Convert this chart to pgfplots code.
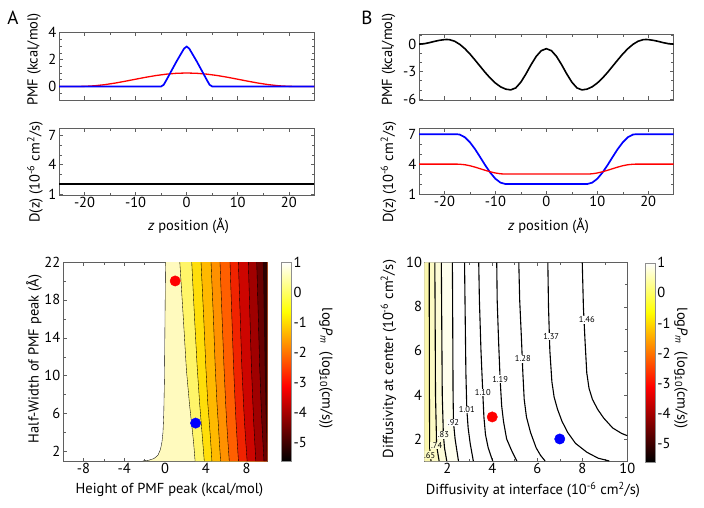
\documentclass[border=0pt]{standalone}
\usepackage{pgfplots}
\pgfplotsset{compat=1.18}
\usepackage{fontspec}
\setmainfont{PT Sans}
\newcommand\fs{\fontsize{14.5}{16}\selectfont}
\newcommand\ls{\fontsize{8.5}{9}\selectfont}
\newcommand\bigf{\fontsize{19}{22}\selectfont}
\definecolor{fr}{RGB}{95,95,95}
\definecolor{c0}{RGB}{255,250,190}
\definecolor{c1}{RGB}{255,245,105}
\definecolor{c2}{RGB}{255,222,10}
\definecolor{c3}{RGB}{255,185,0}
\definecolor{c4}{RGB}{255,145,0}
\definecolor{c5}{RGB}{255,95,0}
\definecolor{c6}{RGB}{240,35,0}
\definecolor{c7}{RGB}{205,5,0}
\definecolor{c8}{RGB}{160,0,0}
\definecolor{c9}{RGB}{105,0,0}
\definecolor{c10}{RGB}{45,0,0}
\definecolor{b0}{RGB}{250,246,172}
\definecolor{b1}{RGB}{252,250,195}
\definecolor{b2}{RGB}{253,252,215}
\definecolor{b3}{RGB}{255,255,238}
\pgfplotsset{
  colormap={hotm}{rgb255(0cm)=(0,0,0) rgb255(3cm)=(255,0,0) rgb255(6cm)=(255,255,0) rgb255(8cm)=(255,255,255)},
  base/.style={scale only axis, anchor=south west,
    axis line style={draw=fr, line width=0.7pt},
    tick style={draw=fr, line width=0.5pt},
    major tick length=3.5pt, minor tick length=2.5pt,
    tick label style={font=\fs}, tick align=inside,
    xticklabel style={inner sep=2pt}, yticklabel style={inner sep=2.5pt}},
  cbar/.style={colormap name=hotm, point meta min=-5.6, point meta max=1, colorbar,
    colorbar style={at={(parent axis.north east)}, anchor=north west, xshift=#1,
      scale only axis, width=10pt, height=199pt,
      ytick={-5,-4,-3,-2,-1,0,1}, yticklabels={-5,-4,-3,-2,-1,0,1},
      yticklabel style={font=\fs, anchor=west, inner sep=2pt},
      major tick length=0pt, axis line style={draw=fr!70, line width=0.4pt}}},
}
\begin{document}
\begin{tikzpicture}[x=1pt,y=1pt]
\useasboundingbox (0,0) rectangle (704,507);
% ---------- A: PMF ----------
\begin{axis}[base, at={(59pt,407pt)}, width=255.3pt, height=67.3pt,
  xmin=-25, xmax=25, ymin=-1.01, ymax=4,
  xtick={-20,-10,0,10,20}, minor xtick={-15,-5,5,15}, xticklabels={},
  ytick={0,2,4}, yticklabels={0,2,4}, minor ytick={-0.5,0.5,1,1.5,2.5,3,3.5}]
\addplot[red, line width=1.3pt] coordinates {(-25,0) (-21,0) (-20,0.006) (-18,0.05) (-16,0.134) (-14,0.25) (-12,0.389) (-10,0.537) (-8,0.683) (-6,0.812) (-4,0.913) (-2,0.978) (0,1) (2,0.978) (4,0.913) (6,0.812) (8,0.683) (10,0.537) (12,0.389) (14,0.25) (16,0.134) (18,0.05) (20,0.006) (21,0) (25,0)};
\addplot[blue, line width=1.7pt] coordinates {(-25,0) (-5,0) (-4.5,0.12) (-4,0.45) (-3,1.15) (-2,1.85) (-1,2.5) (-0.5,2.82) (0,2.97) (0.5,2.82) (1,2.5) (2,1.85) (3,1.15) (4,0.45) (4.5,0.12) (5,0) (25,0)};
\end{axis}
% ---------- A: D(z) ----------
\begin{axis}[base, at={(59pt,312pt)}, width=255.3pt, height=66.7pt,
  xmin=-25, xmax=25, ymin=0.9, ymax=7.7,
  xtick={-20,-10,0,10,20}, minor xtick={-15,-5,5,15}, xticklabels={-20,-10,0,10,20},
  ytick={1,4,7}, yticklabels={1,4,7}, minor ytick={2,3,5,6}]
\addplot[black, line width=1.6pt] coordinates {(-25,2) (25,2)};
\end{axis}
% ---------- B: PMF ----------
\begin{axis}[base, at={(419pt,407pt)}, width=254.7pt, height=66pt,
  xmin=-25, xmax=25, ymin=-6.1, ymax=1.1,
  xtick={-20,-10,0,10,20}, minor xtick={-15,-5,5,15}, xticklabels={},
  ytick={-6,-3,0}, yticklabels={-6,-3,0}, minor ytick={-5,-4,-2,-1,1}]
\addplot[black, line width=1.6pt] coordinates {(-25,0) (-24,0.04) (-23,0.15) (-22,0.29) (-21,0.41) (-20,0.49) (-19.5,0.5) (-19,0.48) (-18,0.31) (-17,-0.03) (-16,-0.5) (-15,-1.08) (-14,-1.74) (-13,-2.42) (-12,-3.1) (-11,-3.72) (-10,-4.25) (-9,-4.66) (-8,-4.91) (-7,-5) (-6,-4.78) (-5,-4.15) (-4,-3.25) (-3,-2.25) (-2,-1.35) (-1,-0.72) (0,-0.5) (1,-0.72) (2,-1.35) (3,-2.25) (4,-3.25) (5,-4.15) (6,-4.78) (7,-5) (8,-4.91) (9,-4.66) (10,-4.25) (11,-3.72) (12,-3.1) (13,-2.42) (14,-1.74) (15,-1.08) (16,-0.5) (17,-0.03) (18,0.31) (19,0.48) (19.5,0.5) (20,0.49) (21,0.41) (22,0.29) (23,0.15) (24,0.04) (25,0)};
\end{axis}
% ---------- B: D(z) ----------
\begin{axis}[base, at={(419pt,313pt)}, width=254.7pt, height=65.7pt,
  xmin=-25, xmax=25, ymin=1, ymax=7.6,
  xtick={-20,-10,0,10,20}, minor xtick={-15,-5,5,15}, xticklabels={-20,-10,0,10,20},
  ytick={1,4,7}, yticklabels={1,4,7}, minor ytick={2,3,5,6}]
\addplot[blue, line width=1.7pt] coordinates {(-25,7) (-17.5,7) (-17,6.97) (-16,6.7) (-15,6.19) (-14,5.51) (-13,4.71) (-12,3.89) (-11,3.14) (-10,2.53) (-9,2.14) (-8,2) (8,2) (9,2.14) (10,2.53) (11,3.14) (12,3.89) (13,4.71) (14,5.51) (15,6.19) (16,6.7) (17,6.97) (17.5,7) (25,7)};
\addplot[red, line width=1.3pt] coordinates {(-25,4) (-17.5,4) (-17,3.99) (-16,3.94) (-15,3.84) (-14,3.7) (-13,3.54) (-12,3.38) (-11,3.23) (-10,3.11) (-9,3.03) (-8,3) (8,3) (9,3.03) (10,3.11) (11,3.23) (12,3.38) (13,3.54) (14,3.7) (15,3.84) (16,3.94) (17,3.99) (17.5,4) (25,4)};
\end{axis}
% ---------- A: contour ----------
\begin{axis}[base, cbar=6pt, at={(63pt,46pt)}, width=204pt, height=199pt,
  xmin=-10, xmax=10, ymin=1, ymax=22,
  xtick={-8,-4,0,4,8}, xticklabels={-8,-4,0,4,8}, minor xtick={-10,-6,-2,2,6,10},
  ytick={2,6,10,14,18,22}, yticklabels={2,6,10,14,18,22}, minor ytick={4,8,12,16,20}]
\addplot[fill=c0, draw=none] coordinates {(0.05,22) (0,16) (-0.05,10) (-0.12,6) (-0.2,4) (-0.3,3) (-0.45,2.2) (-0.7,1.6) (-1.1,1.25) (-1.6,1.08) (-2.2,1) (10,1) (10,22)} -- cycle;
\addplot[fill=c1, draw=none] coordinates {(1.45,22) (1.8,16) (2.1,10.6) (2.4,7) (2.6,5) (2.8,3) (2.95,1) (10,1) (10,22)} -- cycle;
\addplot[fill=c2, draw=none] coordinates {(2.62,22) (2.9,16) (3.15,11) (3.4,7) (3.55,5) (3.7,3) (3.85,1) (10,1) (10,22)} -- cycle;
\addplot[fill=c3, draw=none] coordinates {(3.53,22) (3.8,16) (4,11) (4.2,7) (4.35,5) (4.48,3) (4.6,1) (10,1) (10,22)} -- cycle;
\addplot[fill=c4, draw=none] coordinates {(4.51,22) (4.75,16) (4.92,11) (5.1,7) (5.22,5) (5.33,3) (5.45,1) (10,1) (10,22)} -- cycle;
\addplot[fill=c5, draw=none] coordinates {(5.39,22) (5.6,16) (5.78,11) (5.95,7) (6.05,5) (6.17,3) (6.3,1) (10,1) (10,22)} -- cycle;
\addplot[fill=c6, draw=none] coordinates {(6.37,22) (6.56,16) (6.72,11) (6.88,7) (6.97,5) (7.08,3) (7.2,1) (10,1) (10,22)} -- cycle;
\addplot[fill=c7, draw=none] coordinates {(7.19,22) (7.38,16) (7.53,11) (7.7,7) (7.8,5) (7.92,3) (8.05,1) (10,1) (10,22)} -- cycle;
\addplot[fill=c8, draw=none] coordinates {(8.17,22) (8.33,16) (8.47,11) (8.62,7) (8.7,5) (8.8,3) (8.9,1) (10,1) (10,22)} -- cycle;
\addplot[fill=c9, draw=none] coordinates {(8.99,22) (9.15,16) (9.28,11) (9.42,7) (9.5,5) (9.6,3) (9.7,1) (10,1) (10,22)} -- cycle;
\addplot[fill=c10, draw=none] coordinates {(9.6,22) (9.7,16) (9.78,11) (9.85,7) (9.9,5) (9.95,3) (10,1) (10,1) (10,22)} -- cycle;
\addplot[black, line width=0.35pt] coordinates {(0.05,22) (0,16) (-0.05,10) (-0.12,6) (-0.2,4) (-0.3,3) (-0.45,2.2) (-0.7,1.6) (-1.1,1.25) (-1.6,1.08) (-2.2,1)};
\addplot[black, line width=0.35pt] coordinates {(1.45,22) (1.8,16) (2.1,10.6) (2.4,7) (2.6,5) (2.8,3) (2.95,1)};
\addplot[black, line width=0.35pt] coordinates {(2.62,22) (2.9,16) (3.15,11) (3.4,7) (3.55,5) (3.7,3) (3.85,1)};
\addplot[black, line width=0.35pt] coordinates {(3.53,22) (3.8,16) (4,11) (4.2,7) (4.35,5) (4.48,3) (4.6,1)};
\addplot[black, line width=0.35pt] coordinates {(4.51,22) (4.75,16) (4.92,11) (5.1,7) (5.22,5) (5.33,3) (5.45,1)};
\addplot[black, line width=0.35pt] coordinates {(5.39,22) (5.6,16) (5.78,11) (5.95,7) (6.05,5) (6.17,3) (6.3,1)};
\addplot[black, line width=0.35pt] coordinates {(6.37,22) (6.56,16) (6.72,11) (6.88,7) (6.97,5) (7.08,3) (7.2,1)};
\addplot[black, line width=0.35pt] coordinates {(7.19,22) (7.38,16) (7.53,11) (7.7,7) (7.8,5) (7.92,3) (8.05,1)};
\addplot[black, line width=0.35pt] coordinates {(8.17,22) (8.33,16) (8.47,11) (8.62,7) (8.7,5) (8.8,3) (8.9,1)};
\addplot[black, line width=0.35pt] coordinates {(8.99,22) (9.15,16) (9.28,11) (9.42,7) (9.5,5) (9.6,3) (9.7,1)};
\addplot[only marks, mark=*, mark size=5.2pt, red, mark options={draw=none, fill=red}] coordinates {(1,20)};
\addplot[only marks, mark=*, mark size=5.2pt, blue, mark options={draw=none, fill=blue}] coordinates {(3,5)};
\end{axis}
% ---------- B: contour ----------
\begin{axis}[base, cbar=9.4pt, at={(424.7pt,46pt)}, width=202.6pt, height=198.3pt,
  xmin=1, xmax=10, ymin=1, ymax=10,
  xtick={2,4,6,8,10}, xticklabels={2,4,6,8,10}, minor xtick={1,3,5,7,9},
  ytick={2,4,6,8,10}, yticklabels={2,4,6,8,10}, minor ytick={1,3,5,7,9}]
\addplot[fill=b3, draw=none] coordinates {(2.23,10) (2.24,8.3) (2.26,4) (2.28,2.74) (2.35,2) (2.5,1) (1,1) (1,10)} -- cycle;
\addplot[fill=b2, draw=none] coordinates {(1.74,10) (1.75,8.3) (1.78,4) (1.83,2.18) (1.88,1.6) (1.98,1) (1,1) (1,10)} -- cycle;
\addplot[fill=b1, draw=none] coordinates {(1.45,10) (1.46,8.3) (1.48,4) (1.53,1.69) (1.64,1) (1,1) (1,10)} -- cycle;
\addplot[fill=b0, draw=none] coordinates {(1.2,10) (1.21,4) (1.22,1.6) (1.28,1) (1,1) (1,10)} -- cycle;
\addplot[black, line width=1.1pt] coordinates {(8,10) (8.05,8) (8.12,6.5) (8.2,5) (8.3,4.3) (8.45,3.8) (8.68,3.35) (8.95,2.95) (9.35,2.5) (9.75,2.25) (10,2.15)};
\addplot[black, line width=1.1pt] coordinates {(6.47,10) (6.5,8) (6.56,6) (6.65,4.6) (6.75,3.9) (6.9,3.35) (7.1,2.8) (7.35,2.3) (7.7,1.8) (8.2,1.4) (8.7,1.13) (9.2,1)};
\addplot[black, line width=1.1pt] coordinates {(5.18,10) (5.22,8.3) (5.3,6.5) (5.36,5) (5.42,3.8) (5.52,3) (5.7,2.3) (5.95,1.6) (6.15,1.25) (6.35,1)};
\addplot[black, line width=1.1pt] coordinates {(4.2,10) (4.22,8.3) (4.28,6.5) (4.35,4.72) (4.42,3.5) (4.5,2.8) (4.64,2) (4.85,1.5) (5.09,1)};
\addplot[black, line width=1.1pt] coordinates {(3.4,10) (3.43,8.3) (3.5,6) (3.58,4.1) (3.63,3) (3.7,2.2) (3.82,1.6) (4.02,1)};
\addplot[black, line width=1.1pt] coordinates {(2.77,10) (2.79,8.3) (2.83,5) (2.87,3.35) (2.93,2.5) (3.02,1.8) (3.16,1)};
\addplot[black, line width=1.1pt] coordinates {(2.23,10) (2.24,8.3) (2.26,4) (2.28,2.74) (2.35,2) (2.5,1)};
\addplot[black, line width=1.1pt] coordinates {(1.74,10) (1.75,8.3) (1.78,4) (1.83,2.18) (1.88,1.6) (1.98,1)};
\addplot[black, line width=1.1pt] coordinates {(1.45,10) (1.46,8.3) (1.48,4) (1.53,1.69) (1.64,1)};
\addplot[black, line width=1.1pt] coordinates {(1.2,10) (1.21,4) (1.22,1.6) (1.28,1)};
\addplot[only marks, mark=*, mark size=5.2pt, red, mark options={draw=none, fill=red}] coordinates {(4,3)};
\addplot[only marks, mark=*, mark size=5.2pt, blue, mark options={draw=none, fill=blue}] coordinates {(7,2)};
\node[font=\ls, fill=white, inner sep=0.6pt] at (axis cs:8.2,7.4) {1.46};
\node[font=\ls, fill=white, inner sep=0.6pt] at (axis cs:6.62,6.64) {1.37};
\node[font=\ls, fill=white, inner sep=0.6pt] at (axis cs:5.36,5.63) {1.28};
\node[font=\ls, fill=white, inner sep=0.6pt] at (axis cs:4.35,4.72) {1.19};
\node[font=\ls, fill=white, inner sep=0.6pt] at (axis cs:3.58,4.1) {1.10};
\node[font=\ls, fill=white, inner sep=0.6pt] at (axis cs:2.87,3.35) {1.01};
\node[font=\ls, fill=white, inner sep=0.6pt] at (axis cs:2.28,2.74) {.92};
\node[font=\ls, fill=b3, inner sep=0.6pt] at (axis cs:1.83,2.18) {.83};
\node[font=\ls, fill=b2, inner sep=0.6pt] at (axis cs:1.53,1.69) {.74};
\node[font=\ls, fill=b1, inner sep=0.6pt] at (axis cs:1.22,1.27) {.65};
\end{axis}
% ---------- labels ----------
\node[font=\bigf] at (13,489.5) {A};
\node[font=\bigf] at (367,489.5) {B};
\node[font=\fs, rotate=90] at (34,447.5) {PMF (kcal/mol)};
\node[font=\fs, rotate=90] at (35,335) {D(z) (10\textsuperscript{-6} cm\textsuperscript{2}/s)};
\node[font=\fs] at (188.5,281) {\textit{z} position (Å)};
\node[font=\fs, rotate=90] at (388.5,447.5) {PMF (kcal/mol)};
\node[font=\fs, rotate=90] at (388.5,335) {D(z) (10\textsuperscript{-6} cm\textsuperscript{2}/s)};
\node[font=\fs] at (548.5,281) {\textit{z} position (Å)};
\node[font=\fs, rotate=90] at (34,148) {Half-Width of PMF peak (Å)};
\node[font=\fs] at (169.5,17) {Height of PMF peak (kcal/mol)};
\node[font=\fs, rotate=-90] at (326,138.5) {log\textit{P}\textsubscript{\textit{m}}\ \ (log\textsubscript{10}(cm/s))};
\node[font=\fs, rotate=90] at (388.5,148) {Diffusivity at center (10\textsuperscript{-6} cm\textsuperscript{2}/s)};
\node[font=\fs] at (533,17) {Diffusivity at interface (10\textsuperscript{-6} cm\textsuperscript{2}/s)};
\node[font=\fs, rotate=-90] at (681,138.5) {log\textit{P}\textsubscript{\textit{m}}\ \ (log\textsubscript{10}(cm/s))};
\end{tikzpicture}
\end{document}
